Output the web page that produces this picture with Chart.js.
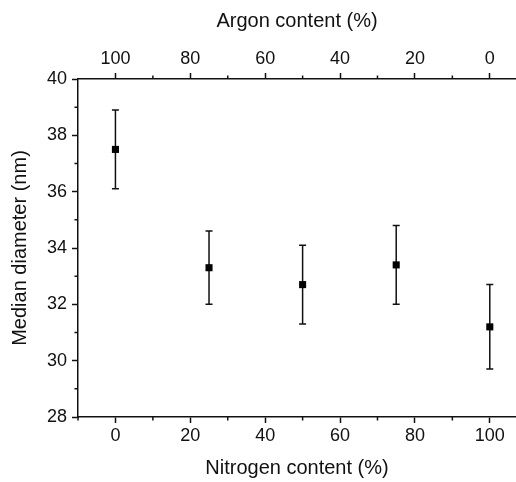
<!DOCTYPE html>
<html>
<head>
<meta charset="utf-8">
<script src="https://cdn.jsdelivr.net/npm/chart.js@4/dist/chart.umd.min.js"></script>
<style>
  html, body { margin: 0; padding: 0; background: #fff; }
  canvas { display: block; }
</style>
</head>
<body>
<canvas id="chart" width="516" height="482"></canvas>
<script>
(function () {
  "use strict";

  // --- Data
  var nitrogen = [0, 25, 50, 75, 100];
  var diameter = [37.5, 33.3, 32.7, 33.4, 31.2];
  var errLow = [36.1, 32.0, 31.3, 32.0, 29.7];
  var errHigh = [38.9, 34.6, 34.1, 34.8, 32.7];

  // --- Axis ticks
  var nTicks = [0, 20, 40, 60, 80, 100];
  var nMinor = [-10, 10, 30, 50, 70, 90];
  var arTicks = [100, 80, 60, 40, 20, 0];
  var arMinor = [90, 70, 50, 30, 10];
  var yTicks = [28, 30, 32, 34, 36, 38, 40];
  var yMinor = [29, 31, 33, 35, 37, 39];

  var xMin = -10, xMax = 107;
  var ink = "#111";
  var tickFont = { family: "'Liberation Sans', Arial, sans-serif", size: 18 };
  var titleFont = { family: "'Liberation Sans', Arial, sans-serif", size: 20 };

  function fixTicks(list) {
    return function (scale) {
      scale.ticks = list.map(function (v) { return { value: v }; });
    };
  }

  // fixed box sizes so the plot area lands where the figure has it
  function boxSize(prop, size) {
    return function (s) {
      s[prop] = size;
      s.paddingLeft = s.paddingRight = s.paddingTop = s.paddingBottom = 0;
    };
  }

  // --- Error bars, drawn through the scales
  var errorBars = {
    id: "errorBars",
    beforeDatasetsDraw: function (chart) {
      var x = chart.scales.x, y = chart.scales.y, ctx = chart.ctx;
      ctx.save();
      ctx.strokeStyle = ink;
      ctx.lineWidth = 1.5;
      nitrogen.forEach(function (n, i) {
        var px = x.getPixelForValue(n);
        var top = y.getPixelForValue(errHigh[i]);
        var bot = y.getPixelForValue(errLow[i]);
        ctx.beginPath();
        ctx.moveTo(px, top); ctx.lineTo(px, bot);
        ctx.moveTo(px - 3.5, top); ctx.lineTo(px + 3.5, top);
        ctx.moveTo(px - 3.5, bot); ctx.lineTo(px + 3.5, bot);
        ctx.stroke();
      });
      ctx.restore();
    }
  };

  // --- Minor tick marks (Chart.js has none)
  var minorTicks = {
    id: "minorTicks",
    afterDraw: function (chart) {
      var ctx = chart.ctx, a = chart.chartArea, len = 3.5;
      ctx.save();
      ctx.strokeStyle = ink;
      ctx.lineWidth = 1.5;
      ctx.beginPath();
      nMinor.forEach(function (v) {
        var p = chart.scales.x.getPixelForValue(v);
        ctx.moveTo(p, a.bottom); ctx.lineTo(p, a.bottom + len);
      });
      arMinor.forEach(function (v) {
        var p = chart.scales.x2.getPixelForValue(v);
        ctx.moveTo(p, a.top); ctx.lineTo(p, a.top - len);
      });
      yMinor.forEach(function (v) {
        var p = chart.scales.y.getPixelForValue(v);
        ctx.moveTo(a.left, p); ctx.lineTo(a.left - len, p);
      });
      ctx.stroke();
      ctx.restore();
    }
  };

  var axisGrid = { drawOnChartArea: false, drawTicks: true, tickLength: 6, tickWidth: 1.5, tickColor: ink };
  var axisBorder = { display: true, color: ink, width: 1.5 };

  new Chart(document.getElementById("chart"), {
    type: "scatter",
    data: {
      datasets: [{
        data: nitrogen.map(function (n, i) { return { x: n, y: diameter[i] }; }),
        pointStyle: "rect",
        pointRadius: 5,
        pointBorderWidth: 0,
        backgroundColor: "#000",
        borderColor: "#000"
      }]
    },
    options: {
      responsive: false,
      animation: false,
      layout: { padding: 0, autoPadding: false },
      plugins: { legend: { display: false }, tooltip: { enabled: false } },
      scales: {
        x: {
          type: "linear", position: "bottom", min: xMin, max: xMax,
          afterBuildTicks: fixTicks(nTicks),
          afterFit: boxSize("height", 65),
          grid: axisGrid, border: axisBorder,
          ticks: { color: ink, font: tickFont, padding: 2, maxRotation: 0 },
          title: { display: true, text: "Nitrogen content (%)", color: ink, font: titleFont, padding: { top: 0, bottom: 1.5 } }
        },
        x2: {
          type: "linear", position: "top", reverse: true,
          min: 100 - xMax, max: 100 - xMin,
          afterBuildTicks: fixTicks(arTicks),
          afterFit: boxSize("height", 79),
          grid: axisGrid, border: axisBorder,
          ticks: { color: ink, font: tickFont, padding: 3, maxRotation: 0 },
          title: { display: true, text: "Argon content (%)", color: ink, font: titleFont, padding: { top: 9.5, bottom: 0 } }
        },
        y: {
          type: "linear", position: "left", min: 28, max: 40,
          afterBuildTicks: fixTicks(yTicks),
          afterFit: boxSize("width", 78),
          grid: axisGrid, border: axisBorder,
          ticks: { color: ink, font: tickFont, padding: 5 },
          title: { display: true, text: "Median diameter (nm)", color: ink, font: titleFont, padding: { top: 8.5, bottom: 0 } }
        }
      }
    },
    plugins: [errorBars, minorTicks]
  });
})();
</script>
</body>
</html>
